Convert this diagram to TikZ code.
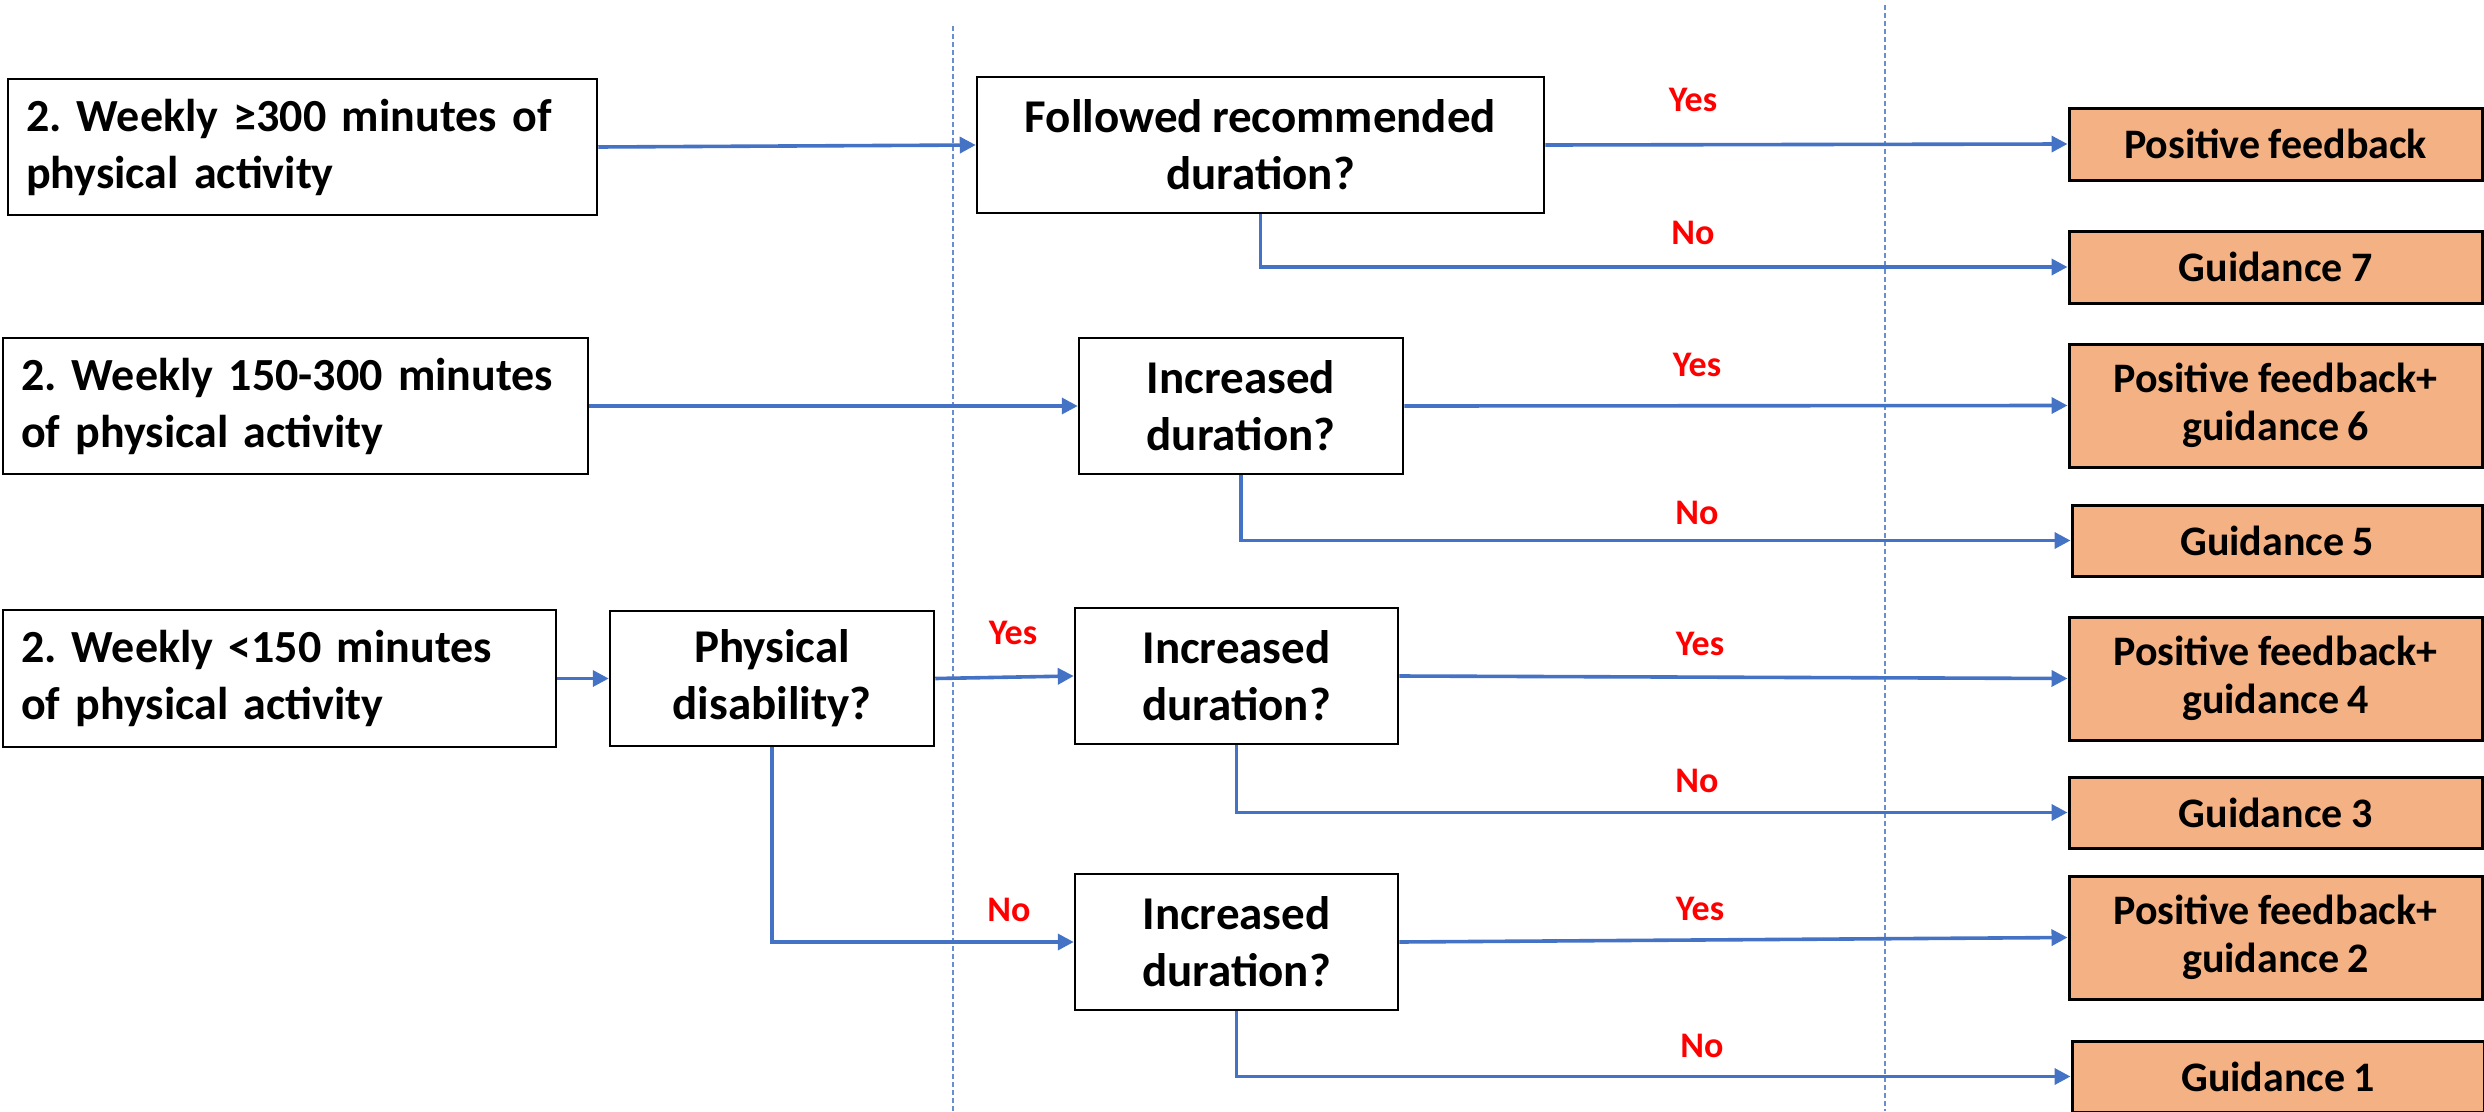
\documentclass[tikz,border=0pt]{standalone}
\usepackage{fontspec}
\setmainfont{Carlito}[WordSpace=0.85]
\usetikzlibrary{arrows.meta}
\definecolor{flowblue}{HTML}{4472C4}
\definecolor{leaffill}{HTML}{F4B183}
\definecolor{answerred}{HTML}{FF0000}
\frenchspacing
\hyphenpenalty=10000
\exhyphenpenalty=10000
\tikzset{
  x=1pt, y=-1pt,
  every node/.style={font=\fontsize{47}{57}\selectfont\bfseries},
  startbox/.style={draw=black, line width=2.5pt, fill=white, align=left,
    inner xsep=18pt, anchor=center, font=\fontsize{46}{57}\selectfont\bfseries},
  askbox/.style={draw=black, line width=2.5pt, fill=white, align=center,
    minimum height=136pt},
  leafbox/.style={draw=black, line width=3pt, fill=leaffill, align=center,
    minimum width=413pt, font=\fontsize{42}{48}\selectfont\bfseries},
  answer/.style={text=answerred, font=\fontsize{36}{40}\selectfont\bfseries},
  flow/.style={draw=flowblue, line width=3.6pt, -{Triangle[length=16pt,width=16pt]}},
  divider/.style={draw=flowblue!80, line width=1.4pt, dash pattern=on 5pt off 3pt},
}
\begin{document}
\begin{tikzpicture}
\useasboundingbox (0,0) rectangle (2484,1111);
\clip (0,0) rectangle (2484,1111);

% column dividers
\coordinate (v1t) at (953,26);  \coordinate (v1b) at (953,1111);
\coordinate (v2t) at (1885,5);  \coordinate (v2b) at (1885,1111);
\draw[divider] (v1t) -- (v1b);
\draw[divider] (v2t) -- (v2b);

% starting categories
\node[startbox, minimum width=589pt, minimum height=136pt, text width=553pt]
  (a1) at (302.5,147) {\mbox{2. Weekly ≥300 minutes of}\\physical activity};
\node[startbox, minimum width=585pt, minimum height=136pt, text width=549pt]
  (a2) at (295.5,406) {\mbox{2. Weekly 150-300 minutes}\\of physical activity};
\node[startbox, minimum width=553pt, minimum height=137pt, text width=517pt]
  (a3) at (279.5,678.5) {\mbox{2. Weekly <150 minutes}\\of physical activity};

% questions
\node[askbox, minimum width=567pt] (q1) at (1260.5,145) {Followed recommended\\duration?};
\node[askbox, minimum width=324pt] (q2) at (1241,406) {Increased\\duration?};
\node[askbox, minimum width=324pt, minimum height=135pt] (d) at (772,678.5) {Physical\\disability?};
\node[askbox, minimum width=323pt] (q3) at (1236.5,676) {Increased\\duration?};
\node[askbox, minimum width=323pt] (q4) at (1236.5,942) {Increased\\duration?};

% outcomes
\node[leafbox, minimum height=72pt] (r1) at (2275.5,144) {Positive feedback};
\node[leafbox, minimum height=72pt] (r2) at (2275.5,267) {Guidance 7};
\node[leafbox, minimum height=123pt] (r3) at (2275.5,405.5) {Positive feedback+\\guidance 6};
\node[leafbox, minimum height=71pt, minimum width=410pt] (r4) at (2277,540.5) {Guidance 5};
\node[leafbox, minimum height=123pt] (r5) at (2275.5,678.5) {Positive feedback+\\guidance 4};
\node[leafbox, minimum height=71pt] (r6) at (2275.5,812.5) {Guidance 3};
\node[leafbox, minimum height=123pt] (r7) at (2275.5,937.5) {Positive feedback+\\guidance 2};
\node[leafbox, minimum height=71pt, minimum width=412pt] (r8) at (2278,1076.5) {Guidance 1};

% connectors
\draw[flow] (a1.east) -- (q1.west);
\draw[flow] (q1.east) -- (r1.west);
\draw[flow] (q1.south) |- (r2.west);
\draw[flow] (a2.east) -- (q2.west);
\draw[flow] (q2.east) -- (r3.west);
\draw[flow] (q2.south) |- (r4.west);
\draw[flow] (a3.east) -- (d.west);
\draw[flow] (d.east) -- (q3.west);
\draw[flow] (d.south) |- (q4.west);
\draw[flow] (q3.east) -- (r5.west);
\draw[flow] (q3.south) |- (r6.west);
\draw[flow] (q4.east) -- (r7.west);
\draw[flow] (q4.south) |- (r8.west);

% answer labels
\node[answer] (y1) at (1693,100) {Yes};
\node[answer] (n1) at (1693,233) {No};
\node[answer] (y2) at (1697,365) {Yes};
\node[answer] (n2) at (1697,513) {No};
\node[answer] (yd) at (1013,633) {Yes};
\node[answer] (nd) at (1009,910) {No};
\node[answer] (y3) at (1700,644) {Yes};
\node[answer] (n3) at (1697,781) {No};
\node[answer] (y4) at (1700,909) {Yes};
\node[answer] (n4) at (1702,1046) {No};
\end{tikzpicture}
\end{document}
